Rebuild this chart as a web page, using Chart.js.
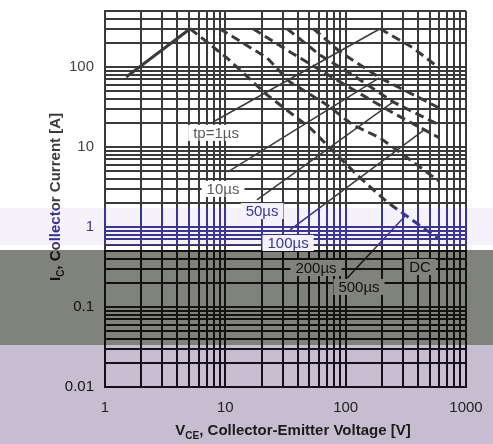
<!DOCTYPE html>
<html lang="en">
<head>
<meta charset="UTF-8">
<title>IGBT Safe Operating Area</title>
<style>
    body { margin: 0; padding: 0; }
    .wrap {
        position: relative;
        width: 493px;
        height: 444px;
        background: linear-gradient(to bottom,
            #ffffff 0px, #ffffff 208px,
            #f5f2fc 208px, #f5f2fc 245px,
            #ffffff 245px, #ffffff 250px,
            #80827c 250px, #80827c 345px,
            #c6bed0 345px, #c6bed0 444px);
    }
    canvas { display: block; }
</style>
<script src="https://cdn.jsdelivr.net/npm/chart.js"></script>
</head>
<body>
<div class="wrap"><canvas id="soa" width="493" height="444"></canvas></div>
<script>
// tick labels
const xTickLabels = [1, 10, 100, 1000];
const yTickLabels = [0.01, 0.1, 1, 10, 100];

// on-state limit (solid)
const onV = [1.5, 5.1];
const onI = [75, 300];

// dashed SOA curves, leftmost first
const curveDcV = [5.1, 10.3, 22.2, 50.6, 84.8, 132, 221, 600];
const curveDcI = [300, 130, 44.7, 17.3, 7.9, 4.1, 2.05, 0.7];
const curve200V = [9.0, 22.2, 34.5, 70, 115, 193, 363, 600];
const curve200I = [300, 130, 64.9, 33.5, 18.8, 13.0, 6.5, 3.7];
const curve100V = [17, 34.5, 65, 151, 267, 600];
const curve100I = [300, 154, 86.6, 41, 25, 13];
const curve50V = [32.6, 61, 115, 248, 600];
const curve50I = [300, 141, 79, 36.5, 18.8];
const curve10V = [54, 90, 193, 600];
const curve10I = [300, 154, 73, 30.7];
const curve1V = [193, 363, 600];
const curve1I = [300, 173, 97];

// curve labels (position in V / A)
const labelText = ['tp=1\u00b5s', '10\u00b5s', '50\u00b5s', '100\u00b5s', '200\u00b5s', '500\u00b5s', 'DC'];
const labelV = [8.37, 9.57, 20.2, 33.2, 56.7, 129, 415];
const labelI = [15.0, 2.99, 1.58, 0.63, 0.307, 0.178, 0.316];

// leader lines: [startV, startI, endV, endI]
const leaders = [
    [7.9, 20.5, 193, 300],
    [10.5, 4.87, 190, 73],
    [18.3, 2.18, 248, 36.5],
    [34.5, 0.92, 449, 16.3],
    [103, 0.23, 312, 1.37]
];

const FONT = 'Arial, "Liberation Sans", sans-serif';
const H = 444;

function minorTicks(minExp, maxExp, maxVal) {
    const out = [];
    for (let e = minExp; e <= maxExp; e++) {
        for (let m = 1; m <= 9; m++) {
            const v = parseFloat((m * Math.pow(10, e)).toPrecision(3));
            if (v <= maxVal) out.push({ value: v });
        }
    }
    return out;
}

function bandGradient(c, x0, y0, x1, y1, cols) {
    const g = c.createLinearGradient(x0, y0, x1, y1);
    const stops = [[0, cols[0]], [208, cols[0]], [208, cols[1]], [245, cols[1]], [245, cols[0]],
                   [250, cols[0]], [250, cols[2]], [345, cols[2]], [345, cols[3]], [H, cols[3]]];
    stops.forEach(s => g.addColorStop(s[0] / H, s[1]));
    return g;
}

function bandBg(y) {
    if (y < 208) return '#ffffff';
    if (y < 245) return '#f5f2fc';
    if (y < 250) return '#ffffff';
    if (y < 345) return '#80827c';
    return '#c6bed0';
}
function bandInk(y) {
    if (y < 208) return '#5a5a5a';
    if (y < 245) return '#3a3590';
    return '#111111';
}

const ctx = document.getElementById('soa').getContext('2d');
const gridGrad = bandGradient(ctx, 0, 0, 0, H, ['#3a3a3a', '#3a3590', '#111111', '#150f1c']);

const pts = (vs, is) => vs.map((v, i) => ({ x: v, y: is[i] }));

const dashed = (vs, is) => ({
    data: pts(vs, is),
    borderColor: gridGrad,
    borderWidth: 3,
    borderDash: [9, 5],
    pointRadius: 0,
    tension: 0
});

const datasets = [
    { data: pts(onV, onI), borderColor: gridGrad, borderWidth: 3, pointRadius: 0, tension: 0 },
    dashed(curveDcV, curveDcI),
    dashed(curve200V, curve200I),
    dashed(curve100V, curve100I),
    dashed(curve50V, curve50I),
    dashed(curve10V, curve10I),
    dashed(curve1V, curve1I)
];
leaders.forEach(l => {
    datasets.push({
        data: [{ x: l[0], y: l[1] }, { x: l[2], y: l[3] }],
        borderColor: gridGrad, borderWidth: 1.5, pointRadius: 0, tension: 0
    });
});

// text with subscript
function drawSub(c, main, sub, rest, cx, cy) {
    const big = 'bold 15px ' + FONT, small = 'bold 10px ' + FONT;
    c.font = big; const w1 = c.measureText(main).width; const w3 = c.measureText(rest).width;
    c.font = small; const w2 = c.measureText(sub).width;
    let x = cx - (w1 + w2 + w3) / 2;
    c.textBaseline = 'middle'; c.textAlign = 'left';
    c.font = big; c.fillText(main, x, cy); x += w1;
    c.font = small; c.fillText(sub, x, cy + 5); x += w2;
    c.font = big; c.fillText(rest, x, cy);
}

const axisTitles = {
    id: 'axisTitles',
    afterDraw(chart) {
        const c = chart.ctx;
        c.save();
        c.fillStyle = '#1a1a1a';
        drawSub(c, 'V', 'CE', ', Collector-Emitter Voltage [V]', 293, 431);
        const cx = 56, cy = 197;
        c.translate(cx, cy);
        c.rotate(-Math.PI / 2);
        c.fillStyle = bandGradient(c, cy, 0, cy - H, 0, ['#3c3c3c', '#3a3590', '#111111', '#111111']);
        drawSub(c, 'I', 'C', ', Collector Current [A]', 0, 0);
        c.restore();
    }
};

const curveLabels = {
    id: 'curveLabels',
    afterDatasetsDraw(chart) {
        const c = chart.ctx, xs = chart.scales.x, ys = chart.scales.y;
        c.save();
        c.font = '15px ' + FONT;
        c.textAlign = 'center';
        c.textBaseline = 'middle';
        labelText.forEach((t, i) => {
            const px = xs.getPixelForValue(labelV[i]);
            const py = ys.getPixelForValue(labelI[i]);
            const w = c.measureText(t).width;
            c.fillStyle = bandBg(py);
            c.fillRect(px - w / 2 - 5, py - 8, w + 10, 16);
            c.fillStyle = bandInk(py);
            c.fillText(t, px, py + 1);
        });
        c.restore();
    }
};

new Chart(ctx, {
    type: 'line',
    data: { datasets: datasets },
    options: {
        responsive: false,
        animation: false,
        layout: { padding: { top: 11, right: 27, left: 0, bottom: 0 } },
        plugins: { legend: { display: false }, tooltip: { enabled: false } },
        scales: {
            x: {
                type: 'logarithmic',
                min: 1,
                max: 1000,
                afterBuildTicks: s => { s.ticks = minorTicks(0, 3, 1000); },
                afterFit: s => { s.height = 57; s.paddingLeft = 0; s.paddingRight = 0; },
                grid: { color: gridGrad, lineWidth: 2, drawTicks: false },
                border: { color: gridGrad, width: 2 },
                ticks: {
                    autoSkip: false,
                    maxRotation: 0,
                    padding: 12,
                    color: '#222222',
                    font: { family: FONT, size: 15 },
                    callback: v => xTickLabels.includes(v) ? String(v) : ''
                }
            },
            y: {
                type: 'logarithmic',
                min: 0.01,
                max: 500,
                afterBuildTicks: s => { s.ticks = minorTicks(-2, 2, 500); },
                afterFit: s => { s.width = 105; s.paddingTop = 0; s.paddingBottom = 0; },
                grid: { color: gridGrad, lineWidth: 2, drawTicks: false },
                border: { color: gridGrad, width: 2 },
                ticks: {
                    autoSkip: false,
                    padding: 11,
                    font: { family: FONT, size: 15 },
                    color: c => {
                        const v = c.tick ? c.tick.value : 0;
                        if (v === 1) return '#3a3590';
                        if (v < 1) return '#111111';
                        return '#444444';
                    },
                    callback: v => yTickLabels.includes(v) ? String(v) : ''
                }
            }
        }
    },
    plugins: [axisTitles, curveLabels]
});
</script>
</body>
</html>
